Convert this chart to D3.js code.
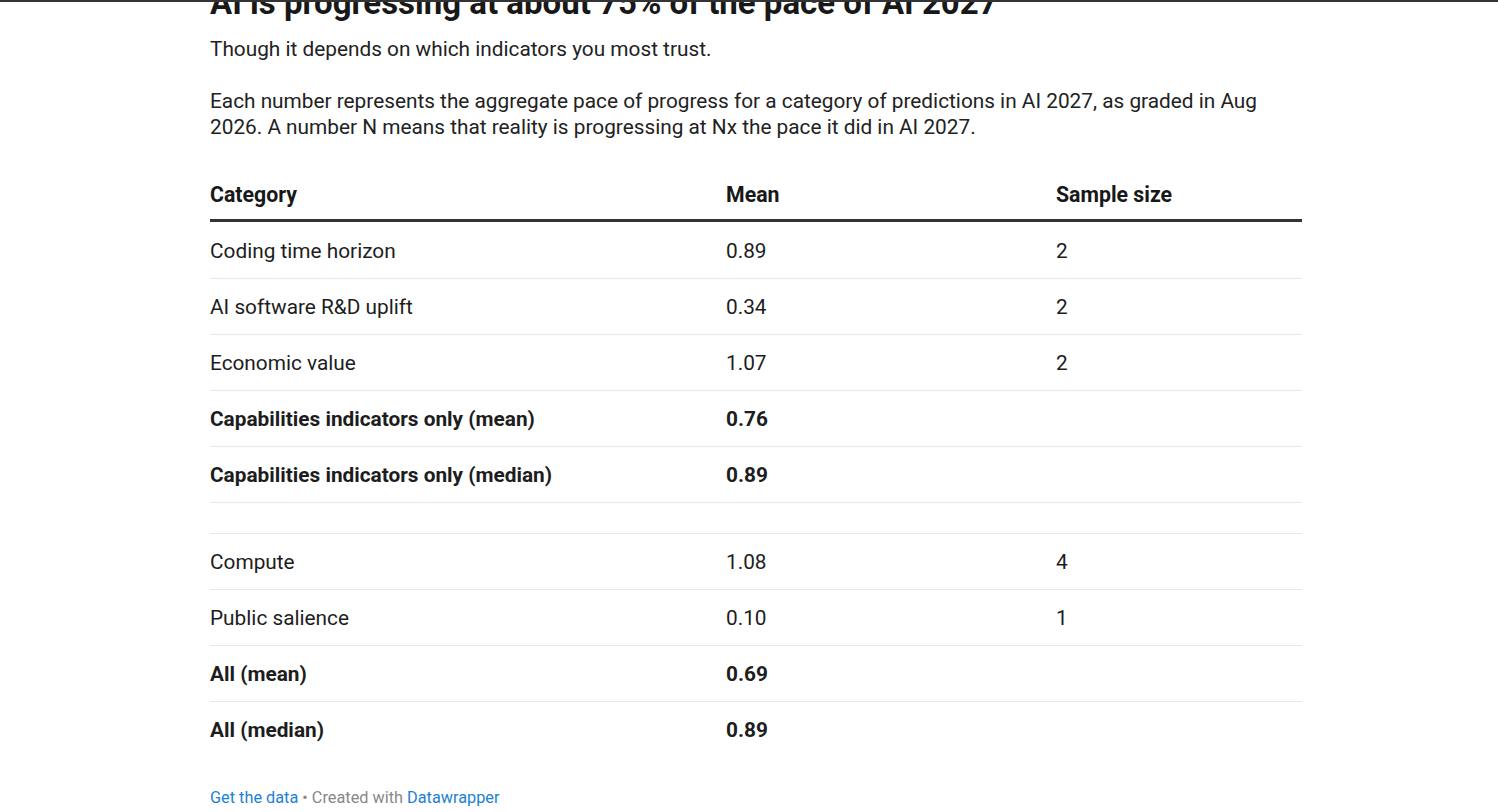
<!DOCTYPE html>
<html><head><meta charset="utf-8">
<script src="https://cdn.jsdelivr.net/npm/d3@7"></script>
<style>body{margin:0;background:#fff;}svg{display:block;font-family:Roboto,sans-serif;}</style>
</head><body>
<script>
const title = "AI is progressing at about 75% of the pace of AI 2027";
const subtitle = "Though it depends on which indicators you most trust.";
const description = ["Each number represents the aggregate pace of progress for a category of predictions in AI 2027, as graded in Aug", "2026. A number N means that reality is progressing at Nx the pace it did in AI 2027."];
const headers = ["Category", "Mean", "Sample size"];
const categories = ["Coding time horizon","AI software R&D uplift","Economic value","Capabilities indicators only (mean)","Capabilities indicators only (median)","","Compute","Public salience","All (mean)","All (median)"];
const means = ["0.89","0.34","1.07","0.76","0.89","","1.08","0.10","0.69","0.89"];
const samples = ["2","2","2","","","","4","1","",""];
const bold = [false,false,false,true,true,false,false,false,true,true];

const W=1498,H=812,L=210,R=1302, colX=[210,726,1056];
const svg=d3.select("body").append("svg").attr("width",W).attr("height",H);
svg.append("text").attr("x",L).attr("y",14).attr("font-size",33).attr("font-weight",700).attr("fill","#181818").text(title);
svg.append("rect").attr("x",0).attr("y",0).attr("width",W).attr("height",2).attr("fill","#333");
svg.append("text").attr("x",L).attr("y",56).attr("font-size",20.8).attr("fill","#222").text(subtitle);
description.forEach((d,i)=>svg.append("text").attr("x",L).attr("y",108+i*26).attr("font-size",20.8).attr("fill","#222").text(d));
headers.forEach((h,i)=>svg.append("text").attr("x",colX[i]).attr("y",202).attr("font-size",21.3).attr("font-weight",700).attr("fill","#181818").text(h));
svg.append("rect").attr("x",L).attr("y",219).attr("width",R-L).attr("height",3).attr("fill","#333");
const heights=categories.map(c=>c===""?31:56);
let y=222; const tops=[];
heights.forEach(h=>{tops.push(y);y+=h;});
categories.forEach((c,i)=>{
  const t=tops[i], h=heights[i];
  if(i<categories.length-1) svg.append("line").attr("x1",L).attr("x2",R).attr("y1",t+h+0.5).attr("y2",t+h+0.5).attr("stroke","#e8e8e8");
  [c,means[i],samples[i]].forEach((v,j)=>{
    if(v==="")return;
    svg.append("text").attr("x",colX[j]).attr("y",t+h/2+8).attr("font-size",20.8).attr("font-weight",bold[i]?700:400).attr("fill","#1d1d1d").text(v);
  });
});
const f=svg.append("text").attr("x",L).attr("y",803).attr("font-size",16.3);
f.append("tspan").attr("fill","#1d81d2").text("Get the data");
f.append("tspan").attr("fill","#888").text(" • Created with ");
f.append("tspan").attr("fill","#1d81d2").text("Datawrapper");
</script>
</body></html>
